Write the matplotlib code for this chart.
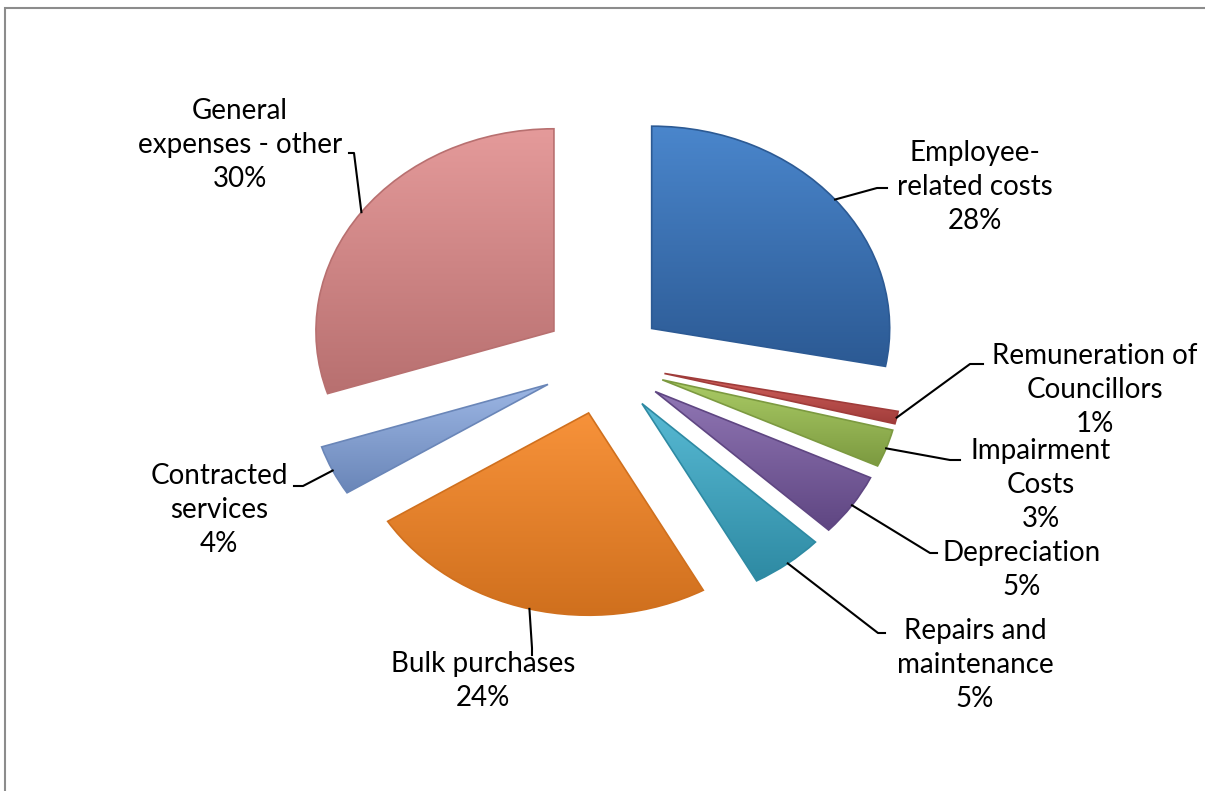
import numpy as np
import matplotlib
matplotlib.use("Agg")
import matplotlib.pyplot as plt
from matplotlib.colors import to_rgb
from matplotlib.patches import Rectangle

# data
labels = ["Employee-\nrelated costs", "Remuneration of\nCouncillors", "Impairment\nCosts",
          "Depreciation", "Repairs and\nmaintenance", "Bulk purchases",
          "Contracted\nservices", "General\nexpenses - other"]
shares = [28, 1, 3, 5, 5, 24, 4, 30]

light = ["#4a86cc", "#d4625e", "#abcc66", "#9076b4", "#58bad4", "#f7923a", "#9cb6e4", "#e49a9a"]
dark = ["#2c5a94", "#a03c3a", "#7c9a40", "#5f4682", "#2e8aa3", "#d0701e", "#6a86b8", "#b87070"]

# label layout in screen pixels (from top-left): text centre, leader elbow points
text_pos = [(975, 187), (1095, 390), (1041, 485), (1022, 570), (975, 665),
            (483, 681), (219, 510), (240, 145)]
leaders = [[(887, 188), (877, 188)], [(983, 364), (970, 364)], [(960, 460), (950, 460)],
           [(937, 553), (930, 553)], [(885, 633), (878, 633)], [(532, 655), (532, 648)],
           [(294, 486), (303, 486)], [(349, 153), (354, 153)]]

W, H = 1205, 791
cx, cy, R, sq = 604, 362, 238, 0.85

fig = plt.figure(figsize=(W / 100, H / 100), dpi=100)
ax = fig.add_axes([0, 0, 1, 1])
wedges, _ = ax.pie(shares, startangle=90, counterclock=False, explode=[0.26] * len(shares),
                   colors=light, radius=1.0)
ax.set_aspect("auto")
ax.set_xlim(-cx / R, (W - cx) / R)
ax.set_ylim(-(H - cy) / (R * sq), cy / (R * sq))
ax.axis("off")

# shading inside each wedge
for w, c1, c2 in zip(wedges, light, dark):
    a = np.radians(np.linspace(w.theta1, w.theta2, 50))
    xs = np.concatenate([[w.center[0]], w.center[0] + w.r * np.cos(a)])
    ys = np.concatenate([[w.center[1]], w.center[1] + w.r * np.sin(a)])
    t = np.linspace(0, 1, 64)[:, None]
    grad = (1 - t) * np.array(to_rgb(c1)) + t * np.array(to_rgb(c2))
    im = ax.imshow(grad[:, None, :], extent=(xs.min(), xs.max(), ys.min(), ys.max()),
                   aspect="auto", origin="upper", zorder=2, interpolation="bilinear")
    im.set_clip_path(w)
    w.set_edgecolor(c2)
    w.set_linewidth(1.2)
    w.set_zorder(3)
    w.set_facecolor("none")

# overlay in pixel coordinates
ov = fig.add_axes([0, 0, 1, 1])
ov.set_xlim(0, W)
ov.set_ylim(H, 0)
ov.axis("off")
ov.patch.set_alpha(0)

fig.canvas.draw()
for i, w in enumerate(wedges):
    mid = np.radians((w.theta1 + w.theta2) / 2)
    px = w.center[0] + w.r * np.cos(mid)
    py = w.center[1] + w.r * np.sin(mid)
    dx, dy = ax.transData.transform((px, py))
    anchor = (dx, H - dy)
    pts = leaders[i] + [anchor]
    ov.plot([p[0] for p in pts], [p[1] for p in pts], color="black", lw=1.5, zorder=5)
    ov.text(text_pos[i][0], text_pos[i][1], f"{labels[i]}\n{shares[i]}%", ha="center",
            va="center", fontsize=20, family=["Lato", "DejaVu Sans"], linespacing=1.38,
            color="black", zorder=6)

# chart area border
fig.add_artist(Rectangle((5 / W, -0.05), 1.1, 1.05 - 8 / H, transform=fig.transFigure,
                         fill=False, edgecolor="#8c8c8c", lw=1.5))

fig.savefig("out.png", dpi=100)
